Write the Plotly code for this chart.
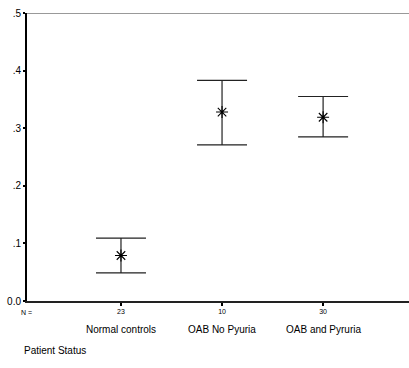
import plotly.graph_objects as go

categories = ["Normal controls", "OAB No Pyuria", "OAB and Pyruria"]
counts = ["23", "10", "30"]
means = [0.079, 0.328, 0.319]
upper = [0.109, 0.383, 0.355]
lower = [0.049, 0.271, 0.285]
y_tickvals = [0.0, 0.1, 0.2, 0.3, 0.4, 0.5]
y_ticktext = ["0.0", ".1", ".2", ".3", ".4", ".5"]

xpos = list(range(len(categories)))
err_plus = [u - m for u, m in zip(upper, means)]
err_minus = [m - l for m, l in zip(means, lower)]

FONT = "Liberation Sans, Arial, sans-serif"
PLOT_H = 288.0
PLOT_W = 382.0

fig = go.Figure()
fig.add_trace(go.Scatter(
    x=xpos, y=means, mode="markers",
    marker=dict(symbol="asterisk-open", size=10, color="black",
                line=dict(color="black", width=1.1)),
    error_y=dict(type="data", symmetric=False, array=err_plus, arrayminus=err_minus,
                 color="#222", thickness=1.2, width=25),
    showlegend=False, cliponaxis=False, hoverinfo="skip",
))

for x, name in zip(xpos, categories):
    fig.add_annotation(x=x, y=-28 / PLOT_H, xref="x", yref="paper", text=name, showarrow=False,
                       font=dict(family=FONT, size=10, color="black"),
                       xanchor="center", yanchor="middle")

fig.add_annotation(x=-1 / PLOT_W, y=-11 / PLOT_H, xref="paper", yref="paper", text="N =",
                   showarrow=False, font=dict(family=FONT, size=7, color="black"),
                   xanchor="center", yanchor="middle")

fig.add_annotation(x=-5 / PLOT_W, y=-49 / PLOT_H, xref="paper", yref="paper",
                   text="Patient Status", showarrow=False,
                   font=dict(family=FONT, size=10, color="black"),
                   xanchor="left", yanchor="middle")

fig.add_shape(type="line", xref="paper", yref="y", x0=0, x1=1, y0=0.5, y1=0.5,
              line=dict(color="#777", width=1.5))

fig.update_layout(
    width=409, height=368,
    margin=dict(l=27, r=0, t=13, b=67),
    paper_bgcolor="white", plot_bgcolor="white",
    font=dict(family=FONT, color="black"),
    xaxis=dict(range=[-0.93, 2.85], tickvals=xpos, ticktext=counts,
               tickfont=dict(size=7, color="black"), ticks="outside", ticklen=3, tickwidth=2,
               tickcolor="black", showline=True, linecolor="#222", linewidth=2,
               showgrid=False, zeroline=False),
    yaxis=dict(range=[0, 0.5], tickvals=y_tickvals, ticktext=y_ticktext,
               tickfont=dict(size=10, color="black"), ticks="outside", ticklen=2, tickwidth=2,
               tickcolor="black", showline=True, linecolor="black", linewidth=2,
               showgrid=False, zeroline=False),
)

fig.write_html("out.html", config={"displayModeBar": False},
               post_script="document.body.style.margin='0';")
